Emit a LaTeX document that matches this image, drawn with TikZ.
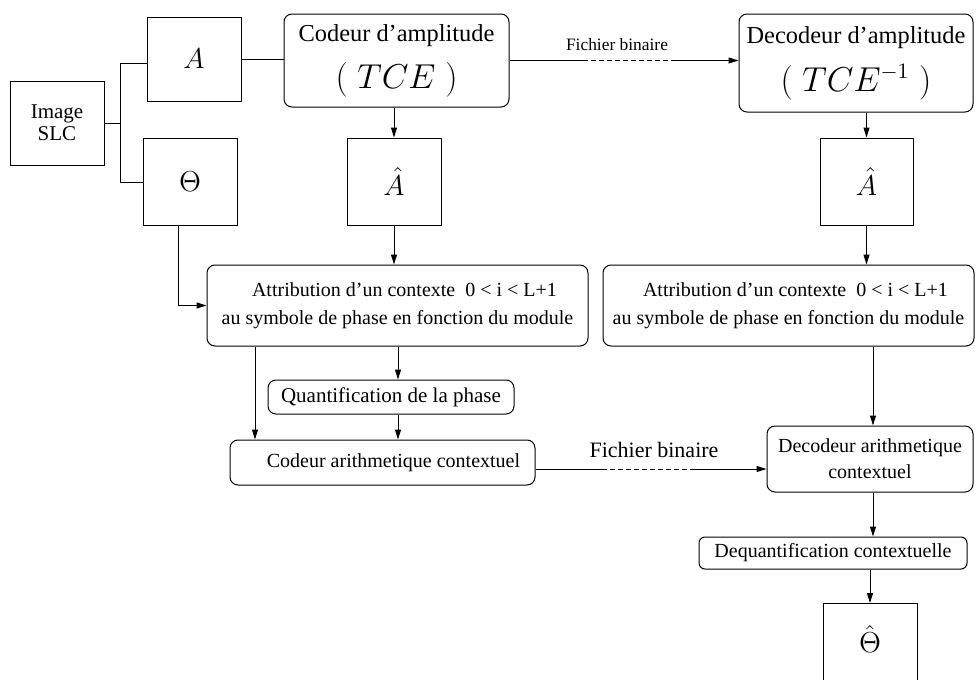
\documentclass[tikz,border=0pt]{standalone}
\usepackage[no-math]{fontspec}
\setmainfont{Liberation Serif}
\usetikzlibrary{arrows.meta}
\begin{document}
\begin{tikzpicture}[x=0.5pt,y=-0.5pt,line width=0.5pt,
  sqbox/.style args={#1x#2}{draw,inner sep=0pt,minimum width=#1*0.5pt,minimum height=#2*0.5pt},
  rbox/.style args={#1x#2}{sqbox=#1x#2,rounded corners=4pt},
  arr/.style={-{Triangle[length=5pt,width=3pt]}},
  txt/.style={align=center,font=\fontsize{10}{14}\selectfont},
  big/.style={font=\fontsize{14.4}{16}\selectfont},
  hd/.style={align=center,font=\fontsize{12.2}{14}\selectfont},
  dsh/.style={dash pattern=on 2.5pt off 1.5pt}]
\clip (0,0) rectangle (976,680);
% nodes
\node[sqbox=94x84,align=center,font=\fontsize{10.5}{11}\selectfont] (img) at (57,123) {Image\\SLC};
\node[sqbox=94x84,big] (A) at (194,59) {$A$};
\node[sqbox=94x87,big] (th) at (190,181.5) {$\Theta$};
\node[rbox=225x93,hd] (cod) at (396.5,60.5) {Codeur d'amplitude\\[7pt]{\fontsize{16}{18}\selectfont$(\;TCE\;)$}};
\node[rbox=234x98,hd] (dec) at (856,63) {Decodeur d'amplitude\\[7pt]{\fontsize{16}{18}\selectfont$(\;TCE^{-1}\;)$}};
\node[sqbox=94x87,big] (ah1) at (394,181.5) {$\hat{A}$};
\node[sqbox=93x87,big] (ah2) at (866.5,181.5) {$\hat{A}$};
\node[rbox=381x81,txt] (att1) at (397.5,305.5) {\hspace*{7pt}Attribution d'un contexte~ 0 < i < L+1\\au symbole de phase en fonction du module};
\node[rbox=371x81,txt] (att2) at (788.5,305.5) {\hspace*{7pt}Attribution d'un contexte~ 0 < i < L+1\\au symbole de phase en fonction du module};
\node[rbox=246x34,txt,font=\fontsize{10.5}{12}\selectfont] (quant) at (391,397) {Quantification de la phase};
\node[rbox=305x45,txt] (carith) at (382.5,462.5) {\hspace*{11pt}Codeur arithmetique contextuel};
\node[rbox=206x66,txt,font=\fontsize{10}{13}\selectfont] (darith) at (870,459) {Decodeur arithmetique\\contextuel};
\node[rbox=268x32,txt,rounded corners=3pt] (deq) at (833,553) {Dequantification contextuelle};
\node[draw,inner sep=0pt,minimum width=47pt,text height=24.5pt,text depth=24pt,big,anchor=north] (thh) at (870,603) {$\hat{\Theta}$};
\node[font=\fontsize{8.7}{10}\selectfont] (fb1) at (617,45) {Fichier binaire};
\node[font=\fontsize{11}{13}\selectfont] (fb2) at (654,450) {Fichier binaire};
% connectors
\coordinate (jA) at (120,63);
\coordinate (jT) at (120,182);
\draw (jA) -- (jT);
\draw (img.east) -- (img.east -| jA);
\draw (jA) -- (jA -| A.west);
\draw (jT) -- (jT -| th.west);
\draw (A.east) -- (A.east -| cod.west);
\coordinate (d1a) at (583,60.5);
\coordinate (d1b) at (672,60.5);
\draw (cod.east) -- (d1a);
\draw[dsh] (d1a) -- (d1b);
\draw[arr] (d1b) -- (d1b -| dec.west);
\draw[arr] (cod.south -| ah1.north) -- (ah1.north);
\draw[arr] (dec.south -| ah2.north) -- (ah2.north);
\draw[arr] (ah1.south) -- (ah1.south |- att1.north);
\draw[arr] (ah2.south) -- (ah2.south |- att2.north);
\draw[arr] ([xshift=-6pt]th.south) |- (att1.west);
\coordinate (qx) at ([xshift=3.5pt]quant.north);
\coordinate (cx) at (255,0);
\draw[arr] (att1.south -| qx) -- (qx);
\draw[arr] (quant.south -| qx) -- (carith.north -| qx);
\draw[arr] (att1.south -| cx) -- (carith.north -| cx);
\coordinate (d2a) at (602,469);
\coordinate (d2b) at (692,469);
\draw (carith.east |- d2a) -- (d2a);
\draw[dsh] (d2a) -- (d2b);
\draw[arr] (d2b) -- (d2b -| darith.west);
\coordinate (dx) at (873,0);
\draw[arr] (att2.south -| dx) -- (darith.north -| dx);
\draw[arr] (darith.south -| dx) -- (deq.north -| dx);
\draw[arr] (deq.south -| thh.north) -- (thh.north);
\end{tikzpicture}
\end{document}
